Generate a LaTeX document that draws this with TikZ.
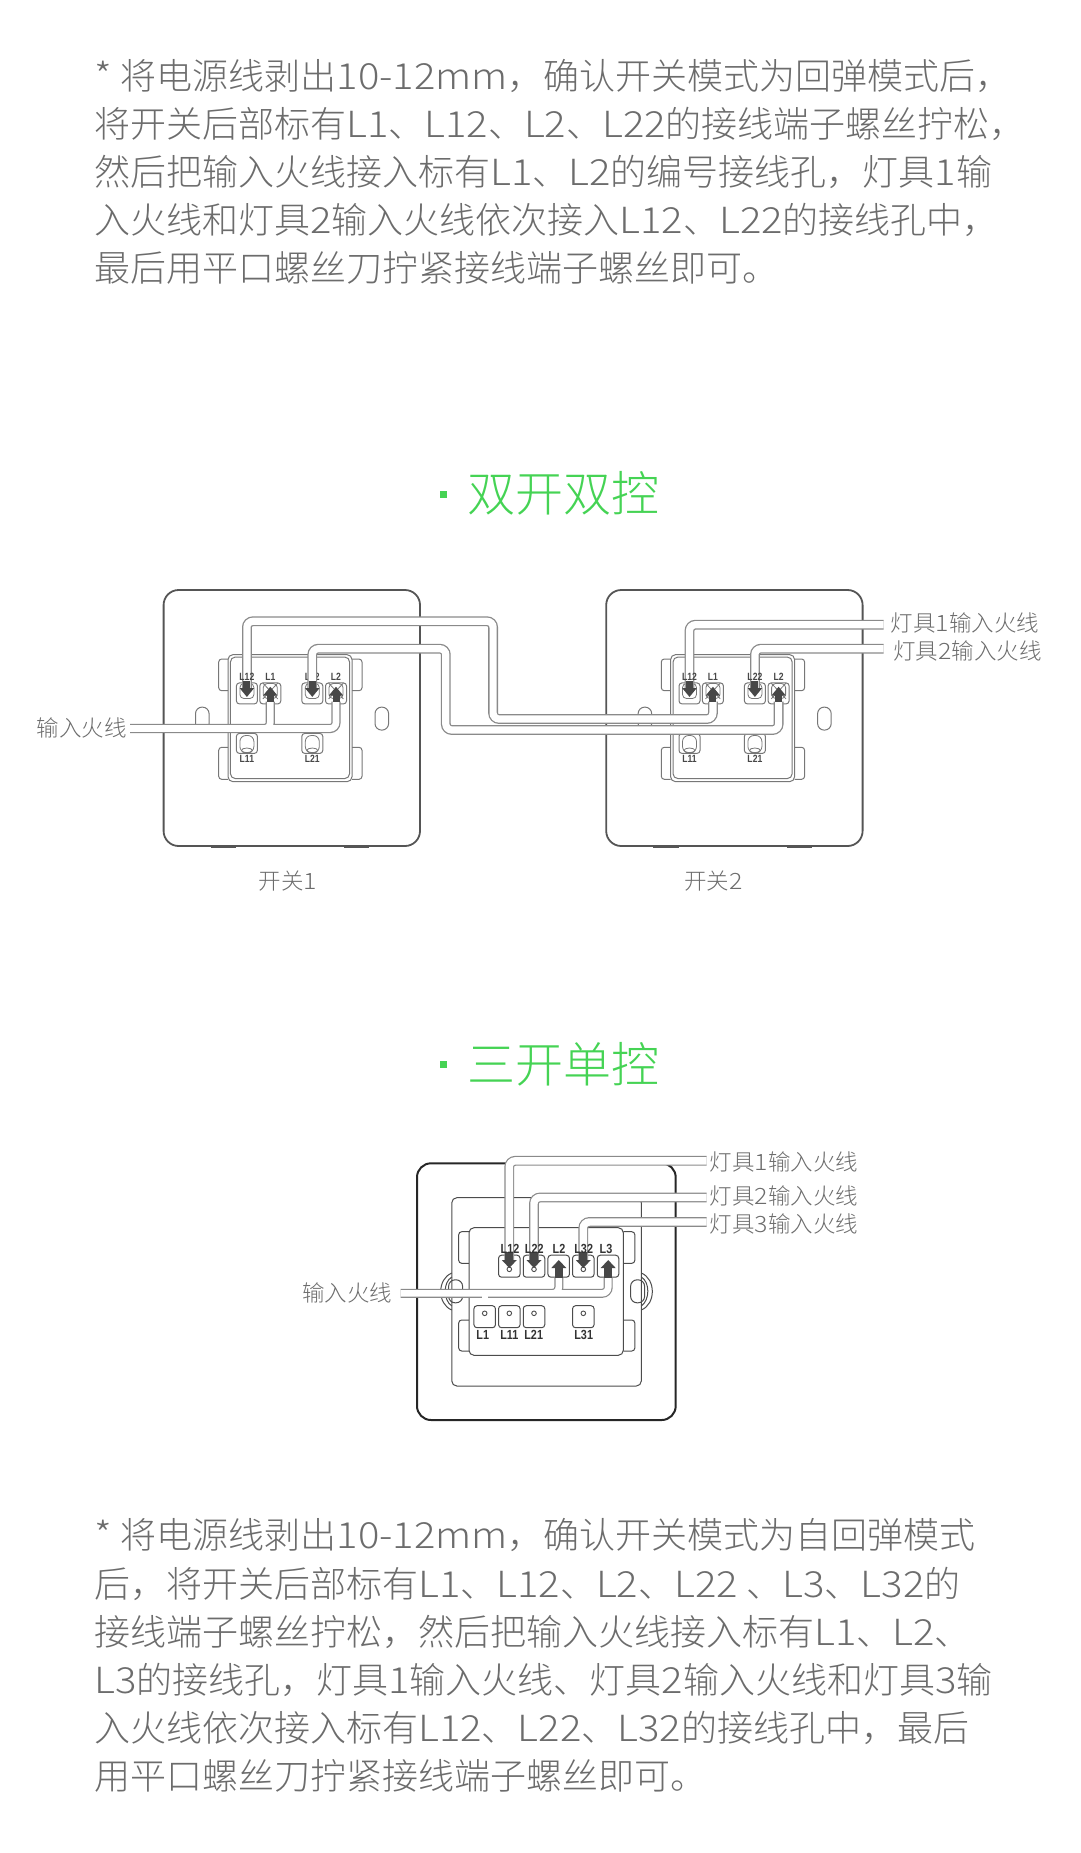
\documentclass[tikz,border=0pt]{standalone}
\usepackage{fontspec}
\setmainfont{Noto Sans CJK SC Light}
\newfontfamily\lat[FakeStretch=1.11]{Noto Sans CJK SC Light}
\newfontfamily\tlab[FakeStretch=0.82]{Liberation Sans}
\usetikzlibrary{arrows.meta}
\definecolor{bodygray}{HTML}{6C6C6C}
\definecolor{headgreen}{HTML}{45D354}
\definecolor{linegray}{HTML}{777777}
\definecolor{wiregray}{HTML}{8A8A8A}
\definecolor{feedgray}{HTML}{474747}
\definecolor{framegray}{HTML}{555555}
\newcommand{\lt}[1]{{\lat #1}}
\tikzset{
  bodyline/.style={anchor=base west,inner sep=0pt,text=bodygray,font=\fontsize{36}{36}\selectfont},
  headline/.style={anchor=west,inner sep=0pt,text=headgreen,font=\fontsize{48}{48}\selectfont},
  headdot/.style={fill=headgreen,minimum size=7pt,inner sep=0pt},
  caption/.style={inner sep=0pt,text=bodygray,font=\fontsize{22.5}{22.5}\selectfont},
  frame/.style={draw=framegray,line width=1.8pt,rounded corners=15pt},
  plate/.style={draw=linegray,line width=1pt,rounded corners=5pt},
  ear/.style={draw=linegray,line width=1pt,rounded corners=3pt},
  slot/.style={draw=linegray,line width=1pt,rounded corners=6.6pt,minimum width=13.6pt,minimum height=23pt,inner sep=0pt},
  termbox/.style={draw=linegray,line width=1pt,rounded corners=3pt,minimum width=21pt,minimum height=21pt,inner sep=0pt},
  termcup/.style={draw=linegray,line width=0.8pt,rounded corners=4pt,minimum width=14pt,minimum height=15pt,inner sep=0pt},
  tlabel/.style={inner sep=0pt,text=feedgray,font=\tlab\bfseries\fontsize{10.5}{10.5}\selectfont},
  wire/.style={draw=wiregray,line width=1.3pt,double=white,double distance=7.2pt,rounded corners=6pt},
  feed/.style={color=feedgray,line width=7pt,-{Triangle[width=14pt,length=9pt]}},
  gframe/.style={draw=black!85,line width=2pt,rounded corners=14pt},
  gline/.style={draw=black!70,line width=1pt,rounded corners=5pt},
  gbox/.style={draw=black!70,line width=1pt,rounded corners=3pt,minimum width=21.5pt,minimum height=22pt,inner sep=0pt},
  gslot/.style={draw=black!70,line width=1pt,rounded corners=6.5pt,minimum width=14pt,minimum height=23pt,inner sep=0pt},
  ghole/.style={circle,draw=black!70,line width=0.9pt,minimum size=4.6pt,inner sep=0pt},
  glabel/.style={inner sep=0pt,text=black!80,font=\tlab\bfseries\fontsize{13.2}{13.2}\selectfont},
  gwire/.style={draw=wiregray,line width=1.2pt,double=white,double distance=7.4pt,rounded corners=6pt},
  gfeed/.style={color=feedgray,line width=8pt,-{Triangle[width=14.5pt,length=8pt]}},
}
\begin{document}
\begin{tikzpicture}[x=1pt,y=-1pt]
    \useasboundingbox (0,0) rectangle (1080,1853);
    \foreach \n/\y/\line in {1/89.5/{\lt{* }将电源线剥出\lt{10-12mm}，确认开关模式为回弹模式后，},
      2/137.5/{将开关后部标有\lt{L1}、\lt{L12}、\lt{L2}、\lt{L22}的接线端子螺丝拧松，},
      3/185.5/{然后把输入火线接入标有\lt{L1}、\lt{L2}的编号接线孔，灯具\lt{1}输},
      4/233.5/{入火线和灯具\lt{2}输入火线依次接入\lt{L12}、\lt{L22}的接线孔中，},
      5/281.5/{最后用平口螺丝刀拧紧接线端子螺丝即可。}}
    {
      \node[bodyline] (up\n) at (94,\y) {\line};
    }
    \foreach \n/\y/\line in {1/1548.5/{\lt{* }将电源线剥出\lt{10-12mm}，确认开关模式为自回弹模式},
      2/1597/{后，将开关后部标有\lt{L1}、\lt{L12}、\lt{L2}、\lt{L22 }、\lt{L3}、\lt{L32}的},
      3/1645/{接线端子螺丝拧松，然后把输入火线接入标有\lt{L1}、\lt{L2}、},
      4/1693.5/{\lt{L3}的接线孔，灯具\lt{1}输入火线、灯具\lt{2}输入火线和灯具\lt{3}输},
      5/1741.5/{入火线依次接入标有\lt{L12}、\lt{L22}、\lt{L32}的接线孔中，最后},
      6/1789.5/{用平口螺丝刀拧紧接线端子螺丝即可。}}
    {
      \node[bodyline] (down\n) at (94,\y) {\line};
    }
    \node[headdot] (dot1) at (443.5,494) {};
    \node[headline] (head1) at (467,493) {双开双控};
    \node[headdot] (dot2) at (443.5,1064) {};
    \node[headline] (head2) at (467,1064.5) {三开单控};
    \foreach \sw/\dx in {a/0,b/442.6}
    {
      \begin{scope}[shift={(\dx,0)}]
        \draw[frame] (163.6,590) rectangle (420,846);
        \draw[draw=framegray,line width=2.6pt] (210.7,846.5) -- (236,846.5) (344,846.5) -- (369,846.5);
        \draw[ear] (228,659) -- (218.7,659) -- (218.7,690.7) -- (228,690.7);
        \draw[ear] (228,747.3) -- (218.7,747.3) -- (218.7,779.3) -- (228,779.3);
        \draw[ear] (352,659) -- (362,659) -- (362,690.7) -- (352,690.7);
        \draw[ear] (352,747.3) -- (362,747.3) -- (362,779.3) -- (352,779.3);
        \draw[plate] (228,654.6) rectangle (352,781.7);
        \draw[plate] (230.4,657) rectangle (349.6,778.6);
        \node[slot] (sl\sw) at (202.3,718.6) {};
        \node[slot] (sr\sw) at (381.8,718.6) {};
        \foreach \t/\tx in {12/246.9,1/270.3,22/312.3,2/336}
        {
          \node[termbox] (\sw\t) at (\tx,693.4) {};
          \node[termcup] (c\sw\t) at (\tx,691) {};
        }
        \foreach \t/\tx in {1/270.3,2/336}
        {
          \draw[linegray,line width=0.8pt] (c\sw\t.north west) -- (c\sw\t.south east) (c\sw\t.north east) -- (c\sw\t.south west);
        }
        \foreach \t/\tx in {11/246.9,21/312.3}
        {
          \node[termbox,minimum height=20pt] (\sw\t) at (\tx,743.4) {};
          \node[termcup,rounded corners=6pt,minimum height=17pt] (c\sw\t) at (\tx,744) {};
          \draw[linegray,line width=0.8pt] (\tx,750.5) ellipse (5.5 and 2.5);
        }
        \foreach \t/\tx in {12/246.9,22/312.3}
        {
          \coordinate (e\sw\t) at (\tx,688);
        }
        \foreach \t/\tx in {1/270.3,2/336}
        {
          \coordinate (e\sw\t) at (\tx,701.7);
        }
      \end{scope}
    }
    \node[tlabel] (la22) at (312.3,677.3) {L22};
    \node[caption,anchor=east] (lin) at (127,727.5) {输入火线};
    \node[caption,anchor=west] (lamp1) at (890.5,623) {灯具\lt{1}输入火线};
    \node[caption,anchor=west] (lamp2) at (893,651) {灯具\lt{2}输入火线};
    \node[caption] (cap1) at (288,881.5) {开关\lt{1}};
    \node[caption] (cap2) at (713.5,881.5) {开关\lt{2}};
    \coordinate (w1) at (493.1,621.3);
    \coordinate (w2) at (493.1,719);
    \coordinate (w3) at (445.8,648.7);
    \coordinate (w4) at (445.8,730);
    \coordinate (w5) at (130,728.5);
    \coordinate (w6) at (883.7,624.7);
    \coordinate (w7) at (883.7,648.7);
    \draw[wire] (ea12) |- (w1) -- (w2) -| (eb1);
    \draw[wire] (ea22) |- (w3) -- (w4) -| (eb2);
    \draw[wire,double distance=6.6pt] (w5) -| (ea1) (w5) -| (ea2);
    \draw[wire] (w6) -| (eb12);
    \draw[wire] (w7) -| (eb22);
    \foreach \t in {a12,a22,b12,b22}
    {
      \draw[feed] ([yshift=7pt]e\t) -- ([yshift=-9pt]e\t);
    }
    \foreach \t in {a1,a2,b1,b2}
    {
      \draw[feed] (e\t) -- ([yshift=15pt]e\t);
    }
    \foreach \sw/\dx in {a/0,b/442.6}
    {
      \begin{scope}[shift={(\dx,0)}]
        \node[tlabel] (l\sw12) at (246.9,677.3) {L12};
        \node[tlabel] (l\sw1) at (270.3,677.3) {L1};
        \node[tlabel] (l\sw2) at (336,677.3) {L2};
        \node[tlabel] (l\sw11) at (246.9,759) {L11};
        \node[tlabel] (l\sw21) at (312.3,759) {L21};
      \end{scope}
    }
    \node[tlabel] (lb22) at (754.9,677.3) {L22};
    \draw[gframe] (417,1163.3) rectangle (675.7,1420);
    \draw[gline] (451.8,1197.7) rectangle (641.3,1386);
    \draw[gline,rounded corners=3pt] (469,1231.7) -- (458.7,1231.7) -- (458.7,1263.3) -- (469,1263.3);
    \draw[gline,rounded corners=3pt] (469,1320) -- (458.7,1320) -- (458.7,1351) -- (469,1351);
    \draw[gline,rounded corners=3pt] (623.3,1231.7) -- (634.8,1231.7) -- (634.8,1263.3) -- (623.3,1263.3);
    \draw[gline,rounded corners=3pt] (623.3,1320) -- (634.8,1320) -- (634.8,1351) -- (623.3,1351);
    \draw[gline,fill=white] (469,1227.7) rectangle (623.3,1355.3);
    \node[gslot] (gsl) at (455.6,1291.3) {};
    \node[gslot] (gsr) at (637.6,1291.3) {};
    \draw[gline] (451.8,1273) .. controls (437,1279) and (437,1304) .. (451.8,1310);
    \draw[gline] (451.8,1277) .. controls (443,1282) and (443,1300) .. (451.8,1306);
    \draw[gline] (641.3,1273) .. controls (656,1279) and (656,1304) .. (641.3,1310);
    \draw[gline] (641.3,1277) .. controls (650,1282) and (650,1300) .. (641.3,1306);
    \foreach \t/\tx in {12/509.3,22/534,2/558.7,32/583.3,3/608}
    {
      \node[gbox] (g\t) at (\tx,1266.2) {};
    }
    \foreach \t/\tx in {1/484.7,11/509.3,21/534,31/583.3}
    {
      \node[gbox] (g\t) at (\tx,1316.7) {};
      \node[ghole] (h\t) at (\tx,1313.3) {};
    }
    \foreach \t/\tx in {12/509.3,22/534,32/583.3}
    {
      \node[ghole] (h\t) at (\tx,1269.3) {};
      \coordinate (eg\t) at (\tx,1260);
    }
    \foreach \t/\tx in {2/558.8,3/608.2}
    {
      \coordinate (eg\t) at (\tx,1277.5);
    }
    \node[caption,anchor=east] (gin) at (392.5,1293) {输入火线};
    \node[caption,anchor=west] (glamp1) at (709.5,1161.5) {灯具\lt{1}输入火线};
    \node[caption,anchor=west] (glamp2) at (709.5,1196) {灯具\lt{2}输入火线};
    \node[caption,anchor=west] (glamp3) at (709.5,1223.5) {灯具\lt{3}输入火线};
    \coordinate (g1) at (706.7,1160.8);
    \coordinate (g2) at (706.7,1197.5);
    \coordinate (g3) at (706.7,1222);
    \coordinate (g4) at (400.6,1293.3);
    \draw[gwire] (g1) -| (eg12);
    \draw[gwire] (g2) -| (eg22);
    \draw[gwire] (g3) -| (eg32);
    \draw[gwire,double distance=6.6pt] (g4) -| (eg2) (g4) -| (eg3);
    \fill[white] (482,1296) rectangle (488,1299);
    \foreach \t in {12,22,32}
    {
      \draw[gfeed] ([yshift=8pt]eg\t) -- ([yshift=-8pt]eg\t);
    }
    \foreach \t in {2,3}
    {
      \draw[gfeed] (eg\t) -- ([yshift=17.5pt]eg\t);
    }
    \foreach \t/\tx/\ty/\txt in {12/510/1249.3/L12,22/534.3/1249.3/L22,2/559/1249.3/L2,32/583.7/1249.3/L32,3/606/1249.3/L3,1/482.7/1335/L1,11/509.3/1335/L11,21/533.7/1335/L21,31/583.7/1335/L31}
    {
      \node[glabel] (gl\t) at (\tx,\ty) {\txt};
    }
\end{tikzpicture}
\end{document}
